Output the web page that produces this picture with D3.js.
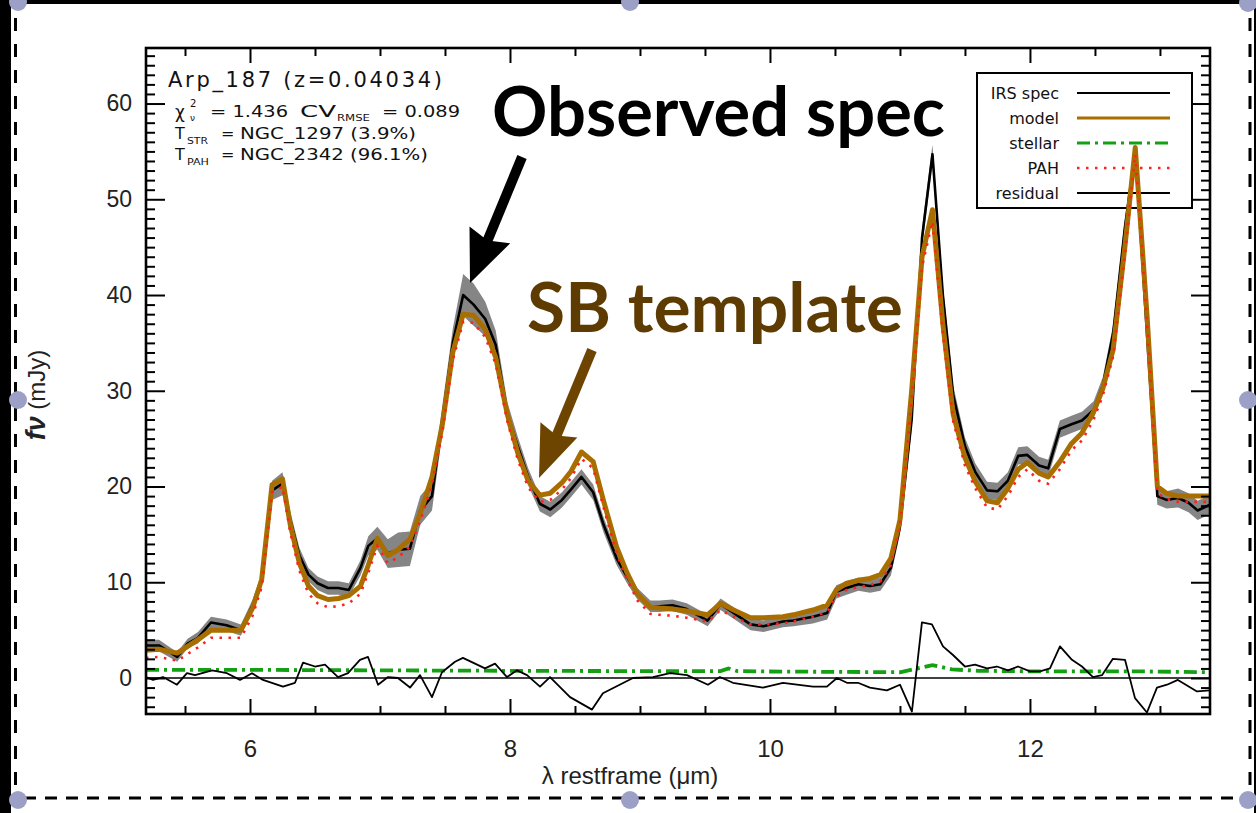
<!DOCTYPE html>
<html><head><meta charset="utf-8">
<script src="https://cdn.jsdelivr.net/npm/d3@7"></script>
<style>html,body{margin:0;padding:0;background:#fff;}svg{display:block;}</style>
</head><body>
<svg id="c" width="1256" height="813"></svg>
<script>
// ---- data ----
const lam = [5.20,5.30,5.44,5.52,5.60,5.70,5.82,5.93,6.02,6.09,6.17,6.25,6.31,6.38,6.45,6.52,6.60,6.68,6.76,6.85,6.91,6.98,7.06,7.14,7.23,7.31,7.40,7.48,7.56,7.64,7.72,7.81,7.89,7.98,8.06,8.14,8.23,8.31,8.40,8.47,8.55,8.64,8.72,8.82,8.90,8.98,9.08,9.15,9.25,9.36,9.52,9.62,9.72,9.85,9.95,10.10,10.18,10.33,10.44,10.51,10.59,10.68,10.77,10.85,10.93,11.00,11.09,11.17,11.25,11.33,11.41,11.50,11.58,11.67,11.75,11.83,11.91,11.98,12.07,12.14,12.23,12.32,12.40,12.49,12.56,12.64,12.73,12.81,12.90,12.98,13.05,13.14,13.22,13.29,13.385];
const modelVals = [2.9,3.0,2.6,3.3,4.0,5.0,5.0,5.0,7.3,10.3,20.2,20.8,16.0,12.0,9.6,8.6,8.2,8.3,8.6,9.6,11.8,14.6,12.8,13.4,14.5,17.2,21.0,26.5,34.0,38.0,37.9,36.4,33.5,27.5,23.5,20.6,19.1,19.3,20.4,21.6,23.6,22.6,18.5,13.7,11.0,8.8,7.4,7.3,7.2,7.0,6.6,7.8,7.1,6.3,6.3,6.4,6.6,7.1,7.6,9.2,9.9,10.2,10.4,10.8,12.5,16.5,30.0,44.0,48.9,37.0,27.5,23.0,20.5,18.5,18.3,19.8,21.8,22.5,21.4,21.0,22.6,24.5,25.6,27.8,30.2,34.3,45.0,55.4,38.0,20.0,19.3,19.0,19.0,19.0,19.0];
const obsVals = [3.4,3.4,2.2,3.6,4.2,5.8,5.5,5.0,7.6,10.2,19.6,20.3,16.5,12.8,10.8,9.9,9.4,9.4,9.2,11.5,13.8,14.6,13.0,13.4,13.5,17.5,19.0,27.0,35.0,40.0,39.0,37.5,34.8,27.6,24.2,21.0,18.2,17.6,18.6,19.7,21.0,19.4,16.0,12.5,10.6,8.8,7.5,7.5,7.6,7.2,6.0,7.7,6.8,5.6,5.4,5.9,6.0,6.4,6.8,9.0,9.4,9.8,9.6,9.8,11.5,15.8,27.0,46.0,54.7,40.0,29.5,24.2,21.5,19.6,19.5,20.6,23.2,23.3,22.2,21.9,26.0,26.5,26.9,28.0,30.5,36.0,47.0,55.0,36.0,19.0,18.6,18.8,18.3,17.5,18.1];
const pahVals = [2.1,2.2,1.8,2.5,3.2,4.2,4.2,4.2,6.5,9.5,19.4,20.0,15.2,11.2,8.8,7.8,7.4,7.5,7.8,8.8,11.0,13.8,12.0,12.6,13.7,16.4,20.2,25.7,33.2,37.2,37.1,35.6,32.8,26.8,22.8,19.9,18.4,18.6,19.7,20.9,22.9,21.9,17.8,13.0,10.3,8.1,6.7,6.6,6.5,6.3,5.9,7.1,6.4,5.6,5.6,5.7,5.9,6.4,6.9,8.5,9.2,9.5,9.7,10.1,11.8,15.8,29.0,43.0,47.7,36.0,26.8,22.2,19.8,17.8,17.6,19.0,21.0,21.8,20.6,20.3,21.8,23.8,24.8,27.0,29.5,33.6,44.3,54.7,37.3,19.3,18.7,18.4,18.4,18.4,18.4];
const errVals = [0.6,0.6,0.5,0.5,0.6,0.6,0.6,0.6,0.6,0.7,1.0,1.2,0.9,0.8,0.7,0.7,0.7,0.7,0.7,0.8,1.0,1.2,1.5,1.8,1.8,1.5,1.5,1.5,1.5,2.2,2.2,1.8,1.5,1.2,1.0,0.9,0.8,0.8,0.8,0.8,0.8,0.8,0.8,0.7,0.7,0.6,0.6,0.6,0.6,0.6,0.6,0.6,0.6,0.6,0.6,0.6,0.6,0.7,0.7,0.7,0.7,0.7,0.7,0.7,0.8,0.8,1.0,1.0,1.0,1.0,1.0,0.9,0.9,0.9,0.9,0.9,0.9,0.9,0.9,0.9,0.9,0.9,0.9,0.9,0.9,0.9,0.9,0.9,0.9,0.9,0.9,1.0,1.0,1.0,1.0];
const lamRes = [5.2,5.254,5.331,5.438,5.515,5.577,5.708,5.823,5.923,6.015,6.1,6.254,6.346,6.408,6.5,6.577,6.677,6.754,6.846,6.908,6.985,7.062,7.138,7.231,7.308,7.4,7.477,7.577,7.638,7.808,7.885,7.977,8.054,8.131,8.231,8.308,8.462,8.631,8.715,8.946,9.1,9.231,9.362,9.523,9.615,9.715,9.946,10.1,10.331,10.438,10.515,10.592,10.677,10.769,10.9,11.0,11.092,11.169,11.246,11.331,11.408,11.5,11.577,11.669,11.746,11.831,11.908,12.0,12.077,12.154,12.231,12.323,12.4,12.485,12.554,12.638,12.731,12.808,12.9,12.977,13.054,13.138,13.285,13.385];
const resVals = [0.1,-0.2,0.1,-0.7,0.5,0.3,0.8,0.5,-0.2,0.5,-0.2,-0.9,-0.5,1.6,1.2,1.4,0.1,0.5,1.9,2.2,-0.7,0.1,0.0,-1.0,0.3,-2.0,0.6,1.7,2.1,1.0,1.5,0.1,0.8,0.3,-0.9,0.1,-2.0,-3.3,-1.6,0.0,0.1,0.5,0.3,-0.7,0.1,-0.5,-1.0,-0.5,-0.9,-0.9,0.0,-0.5,-0.5,-1.0,-1.3,-0.7,-3.5,5.8,5.6,3.3,2.4,1.2,1.4,1.0,1.2,0.8,1.2,0.7,0.7,1.0,3.3,1.9,1.2,0.1,0.3,2.0,1.9,-2.1,-3.6,-1.0,-0.7,-0.2,-1.4,-1.3];
const lamStel = [5.2,6.0,7.0,8.0,9.0,9.62,9.68,9.75,10.0,11.0,11.1,11.25,11.4,11.6,12.0,12.8,13.385];
const stelVals = [0.85,0.85,0.8,0.75,0.72,0.72,1.0,0.72,0.68,0.6,0.9,1.35,0.9,0.75,0.7,0.7,0.6];
const xTicksMajor = [6,8,10,12];
const yTicksMajor = [0,10,20,30,40,50,60];
const legendLabels = ["IRS spec","model","stellar","PAH","residual"];

// ---- layout ----
const svg = d3.select("#c");
const L=146,R=1210,T=48,B=714;
const x = d3.scaleLinear().domain([5.2,13.385]).range([L,R]);
const y = d3.scaleLinear().domain([-3.76,65.8]).range([B,T]);

// screenshot frame decorations
svg.append("rect").attr("x",0).attr("y",0).attr("width",1256).attr("height",813).attr("fill","#fff");
svg.append("rect").attr("x",0).attr("y",0).attr("width",11).attr("height",813).attr("fill","#000");
svg.append("rect").attr("x",0).attr("y",0).attr("width",1256).attr("height",4).attr("fill","#000");
svg.append("rect").attr("x",1254).attr("y",0).attr("width",2).attr("height",813).attr("fill","#000");
const dash = svg.append("g").attr("stroke","#000").attr("stroke-width",3).attr("stroke-dasharray","13,13").attr("fill","none");
dash.append("line").attr("x1",15.5).attr("y1",18).attr("x2",15.5).attr("y2",797);
dash.append("line").attr("x1",1250).attr("y1",18).attr("x2",1250).attr("y2",797);
dash.append("line").attr("x1",24).attr("y1",798).attr("x2",1244).attr("y2",798).attr("stroke-dasharray","12,9");

const defs = svg.append("defs");
defs.append("clipPath").attr("id","clip").append("rect").attr("x",L).attr("y",T).attr("width",R-L).attr("height",B-T);

const fInfo = "'DejaVu Sans', sans-serif";

// ---- legend (drawn beneath the data, unfilled) ----
const lg = svg.append("g");
lg.append("rect").attr("x",977).attr("y",73).attr("width",215).attr("height",135).attr("fill","none").attr("stroke","#000").attr("stroke-width",2);
const lgStyles = [
  {c:"#000",w:2.2,d:null},
  {c:"#a86f00",w:3.2,d:null},
  {c:"#13a013",w:3,d:"13,5,3,5"},
  {c:"#ff2020",w:2.4,d:"2.5,6.5"},
  {c:"#000",w:2.2,d:null}];
legendLabels.forEach((t,i)=>{
  const yy = 93 + i*25;
  lg.append("text").attr("x",1059).attr("y",yy+6).attr("text-anchor","end").attr("font-family",fInfo).attr("font-size",16).attr("fill","#111").text(t);
  const ln = lg.append("line").attr("x1",1077).attr("x2",1170).attr("y1",yy).attr("y2",yy).attr("stroke",lgStyles[i].c).attr("stroke-width",lgStyles[i].w);
  if(lgStyles[i].d) ln.attr("stroke-dasharray",lgStyles[i].d);
});

const plot = svg.append("g").attr("clip-path","url(#clip)");
const pts = lam.map((l,i)=>({l, m:modelVals[i], o:obsVals[i], p:pahVals[i], e:errVals[i]}));

plot.append("path").datum(pts)
  .attr("d", d3.area().x(d=>x(d.l)).y0(d=>y(d.o-d.e)).y1(d=>y(d.o+d.e)))
  .attr("fill","#858585");
plot.append("path").datum(pts)
  .attr("d", d3.line().x(d=>x(d.l)).y(d=>y(d.o)))
  .attr("fill","none").attr("stroke","#000").attr("stroke-width",2.6).attr("stroke-linejoin","round");
plot.append("path").datum(pts)
  .attr("d", d3.line().x(d=>x(d.l)).y(d=>y(d.m)))
  .attr("fill","none").attr("stroke","#a86f00").attr("stroke-width",5).attr("stroke-linejoin","round");
plot.append("path").datum(pts)
  .attr("d", d3.line().x(d=>x(d.l)).y(d=>y(d.p)))
  .attr("fill","none").attr("stroke","#ff2020").attr("stroke-width",2.6).attr("stroke-dasharray","2.5,6.5");
// zero line
plot.append("line").attr("x1",x(5.2)).attr("x2",x(13.385)).attr("y1",y(0)).attr("y2",y(0))
  .attr("stroke","#000").attr("stroke-width",1.6);
// stellar
plot.append("path").datum(lamStel.map((l,i)=>[l,stelVals[i]]))
  .attr("d", d3.line().x(d=>x(d[0])).y(d=>y(d[1])))
  .attr("fill","none").attr("stroke","#13a013").attr("stroke-width",3.8).attr("stroke-dasharray","13,5,3,5");
// residual
plot.append("path").datum(lamRes.map((l,i)=>[l,resVals[i]]))
  .attr("d", d3.line().x(d=>x(d[0])).y(d=>y(d[1])))
  .attr("fill","none").attr("stroke","#000").attr("stroke-width",1.8).attr("stroke-linejoin","round");

// ---- axes ----
const minorX = d3.range(5.5,13.4,0.5).filter(v=>!xTicksMajor.includes(v));
const minorY = d3.range(-3,66,1).filter(v=>!yTicksMajor.includes(v));
function styleAxis(g){ g.select(".domain").remove(); g.selectAll("line").attr("stroke","#000").attr("stroke-width",2); }
const fontAx = "'Liberation Sans', Arial, sans-serif";

svg.append("g").attr("transform",`translate(0,${B})`)
  .call(d3.axisBottom(x).tickValues(xTicksMajor).tickSizeInner(-15).tickSizeOuter(0).tickPadding(26).tickFormat(d3.format("d")))
  .call(styleAxis).call(g=>g.selectAll("text").attr("font-size",24).attr("font-family",fontAx).attr("fill","#222"));
svg.append("g").attr("transform",`translate(0,${B})`)
  .call(d3.axisBottom(x).tickValues(minorX).tickSizeInner(-8).tickSizeOuter(0).tickFormat(""))
  .call(styleAxis);
svg.append("g").attr("transform",`translate(0,${T})`)
  .call(d3.axisTop(x).tickValues(xTicksMajor).tickSizeInner(-15).tickSizeOuter(0).tickFormat(""))
  .call(styleAxis);
svg.append("g").attr("transform",`translate(0,${T})`)
  .call(d3.axisTop(x).tickValues(minorX).tickSizeInner(-8).tickSizeOuter(0).tickFormat(""))
  .call(styleAxis);
svg.append("g").attr("transform",`translate(${L},0)`)
  .call(d3.axisLeft(y).tickValues(yTicksMajor).tickSizeInner(-19).tickSizeOuter(0).tickPadding(14).tickFormat(d3.format("d")))
  .call(styleAxis).call(g=>g.selectAll("text").attr("font-size",23).attr("font-family",fontAx).attr("fill","#222"));
svg.append("g").attr("transform",`translate(${L},0)`)
  .call(d3.axisLeft(y).tickValues(minorY).tickSizeInner(-9).tickSizeOuter(0).tickFormat(""))
  .call(styleAxis);
svg.append("g").attr("transform",`translate(${R},0)`)
  .call(d3.axisRight(y).tickValues(yTicksMajor).tickSizeInner(-19).tickSizeOuter(0).tickFormat(""))
  .call(styleAxis);
svg.append("g").attr("transform",`translate(${R},0)`)
  .call(d3.axisRight(y).tickValues(minorY).tickSizeInner(-9).tickSizeOuter(0).tickFormat(""))
  .call(styleAxis);
svg.append("rect").attr("x",L).attr("y",T).attr("width",R-L).attr("height",B-T)
  .attr("fill","none").attr("stroke","#000").attr("stroke-width",2.6);

// axis titles
svg.append("text").attr("x",630).attr("y",784).attr("text-anchor","middle")
  .attr("font-family",fontAx).attr("font-size",24).attr("fill","#222").text("λ restframe (μm)");
const yl = svg.append("text").attr("transform","translate(45,395) rotate(-90)").attr("text-anchor","middle")
  .attr("font-family",fontAx).attr("font-size",24).attr("fill","#222");
yl.append("tspan").attr("font-style","italic").attr("font-weight","bold").attr("font-size",27).text("fν");
yl.append("tspan").text("  (mJy)");

// ---- info text ----
const info = svg.append("g").attr("font-family",fInfo).attr("fill","#111");
info.append("text").attr("x",168).attr("y",87).attr("font-size",21).attr("textLength",274).attr("lengthAdjust","spacing").text("Arp_187   (z=0.04034)");
function piece(x0,y0,fs,txt,w){ const t=info.append("text").attr("x",x0).attr("y",y0).attr("font-size",fs).text(txt); if(w) t.attr("textLength",w).attr("lengthAdjust","spacingAndGlyphs"); return t; }
piece(175,118,17,"χ");
piece(190,107,10,"2");
piece(190,121,9,"ν");
piece(210,117,16,"= 1.436",78);
piece(300,117,16,"CV",36);
piece(337,121,9,"RMSE",33);
piece(382,117,16,"= 0.089",78);
piece(175,139,16,"T");
piece(187,144,9,"STR",21);
piece(221,139,16,"=");
piece(240,139,16,"NGC_1297 (3.9%)",176);
piece(175,160,16,"T");
piece(187,165,9,"PAH",22);
piece(221,160,16,"=");
piece(240,160,16,"NGC_2342 (96.1%)",188);

// ---- annotations ----
function arrow(x0,y0,x1,y1,hl,hw,sw,col){
  const dx=x1-x0, dy=y1-y0, len=Math.hypot(dx,dy), ux=dx/len, uy=dy/len, nx=-uy, ny=ux;
  const bx=x1-hl*ux, by=y1-hl*uy;
  svg.append("line").attr("x1",x0).attr("y1",y0).attr("x2",bx+ux*4).attr("y2",by+uy*4).attr("stroke",col).attr("stroke-width",sw);
  svg.append("path").attr("d",`M${x1},${y1}L${bx+hw*nx-ux*6},${by+hw*ny-uy*6}L${bx},${by}L${bx-hw*nx-ux*6},${by-hw*ny-uy*6}Z`).attr("fill",col);
}
arrow(522,157,470,283,46,22,10,"#000");
arrow(592,350,539,478,46,20,10,"#6e4500");
const fAnn = "Lato, 'Open Sans', sans-serif";
svg.append("text").attr("x",492).attr("y",136).attr("font-family",fAnn).attr("font-weight","bold").attr("font-size",68)
  .attr("textLength",453).attr("lengthAdjust","spacingAndGlyphs").attr("fill","#000").text("Observed spec");
svg.append("text").attr("x",527).attr("y",332).attr("font-family",fAnn).attr("font-weight","bold").attr("font-size",68)
  .attr("textLength",376).attr("lengthAdjust","spacingAndGlyphs").attr("fill","#5e3b00").text("SB template");

// selection handles
const hx=[[18,2],[630,2],[1248,3],[18,400],[1248,400],[18,800],[630,800],[1248,800]];
svg.append("g").selectAll("circle").data(hx).join("circle").attr("cx",d=>d[0]).attr("cy",d=>d[1]).attr("r",9).attr("fill","#9da0c6");
</script>
</body></html>
